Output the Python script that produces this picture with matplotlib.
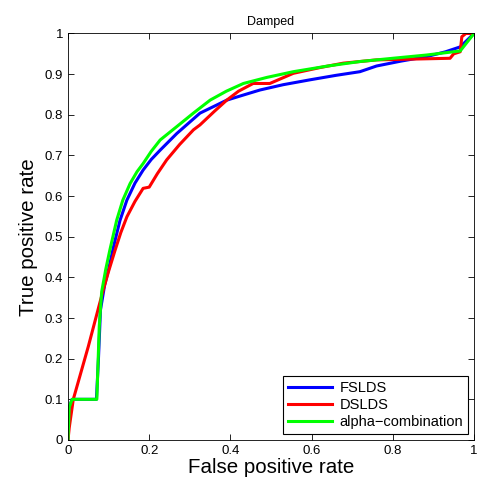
import matplotlib
matplotlib.use("Agg")
import matplotlib.pyplot as plt
import numpy as np

plt.rcParams['font.family'] = ['Liberation Sans', 'DejaVu Sans']

# ROC curves
fpr_fslds = [0, 0.003, 0.01, 0.07, 0.075, 0.08, 0.09, 0.1, 0.112, 0.128, 0.145, 0.165, 0.185,
             0.205, 0.227, 0.268, 0.325, 0.391, 0.43, 0.473, 0.53, 0.596, 0.66, 0.719, 0.76,
             0.82, 0.883, 0.93, 0.966, 1.0]
tpr_fslds = [0, 0.08, 0.1, 0.1, 0.2, 0.32, 0.38, 0.42, 0.475, 0.54, 0.59, 0.632, 0.664,
             0.69, 0.713, 0.754, 0.804, 0.836, 0.848, 0.861, 0.874, 0.886, 0.897, 0.906, 0.92,
             0.932, 0.943, 0.955, 0.967, 1.0]

fpr_dslds = [0, 0.003, 0.013, 0.05, 0.087, 0.1, 0.116, 0.13, 0.145, 0.165, 0.185, 0.2, 0.22,
             0.243, 0.275, 0.309, 0.325, 0.36, 0.391, 0.42, 0.456, 0.497, 0.555, 0.62, 0.678,
             0.76, 0.941, 0.95, 0.966, 0.97, 0.98, 1.0]
tpr_dslds = [0, 0.03, 0.1, 0.23, 0.37, 0.415, 0.467, 0.51, 0.549, 0.587, 0.619, 0.622, 0.655,
             0.689, 0.727, 0.763, 0.775, 0.808, 0.836, 0.858, 0.877, 0.877, 0.902, 0.916, 0.927,
             0.935, 0.939, 0.95, 0.955, 0.992, 1.0, 1.0]

fpr_alpha = [0, 0.003, 0.01, 0.071, 0.077, 0.083, 0.093, 0.103, 0.12, 0.135, 0.153, 0.17,
             0.185, 0.205, 0.227, 0.268, 0.31, 0.35, 0.39, 0.432, 0.49, 0.555, 0.64, 0.719,
             0.8, 0.883, 0.966, 1.0]
tpr_alpha = [0, 0.08, 0.1, 0.1, 0.28, 0.365, 0.42, 0.467, 0.541, 0.59, 0.631, 0.66,
             0.68, 0.71, 0.738, 0.771, 0.805, 0.836, 0.858, 0.877, 0.892, 0.906, 0.92, 0.931,
             0.939, 0.947, 0.957, 1.0]

ticks = [0, 0.2, 0.4, 0.6, 0.8, 1]
yticks = [0, 0.1, 0.2, 0.3, 0.4, 0.5, 0.6, 0.7, 0.8, 0.9, 1]

fig = plt.figure(figsize=(4.83, 4.88), dpi=100)
ax = fig.add_axes([0.1408, 0.0984, 0.8406, 0.8330])

ax.plot(fpr_fslds, tpr_fslds, color='#0000ff', lw=2.2, label='FSLDS')
ax.plot(fpr_dslds, tpr_dslds, color='#ff0000', lw=2.2, label='DSLDS')
ax.plot(fpr_alpha, tpr_alpha, color='#00ff00', lw=2.2, label='alpha\u2212combination')

ax.set_xlim(0, 1)
ax.set_ylim(0, 1)
ax.set_xticks(ticks)
ax.set_xticklabels(['0', '0.2', '0.4', '0.6', '0.8', '1'])
ax.set_yticks(yticks)
ax.set_yticklabels(['0', '0.1', '0.2', '0.3', '0.4', '0.5', '0.6', '0.7', '0.8', '0.9', '1'])
ax.tick_params(direction='in', top=True, right=True, labelsize=9.5, length=4, width=0.6)
for s in ax.spines.values():
    s.set_linewidth(0.6)

ax.set_xlabel('False positive rate', fontsize=14.8, labelpad=1)
ax.set_ylabel('True positive rate', fontsize=14.8, labelpad=5)
ax.set_title('Damped', fontsize=9, pad=6)

leg = ax.legend(loc='lower right', fontsize=10.5, fancybox=False, framealpha=1,
                edgecolor='black', borderaxespad=0.4, handlelength=3.0,
                labelspacing=0.22, borderpad=0.35, handletextpad=0.5)
leg.get_frame().set_linewidth(0.8)

fig.savefig('out.png', dpi=100)
